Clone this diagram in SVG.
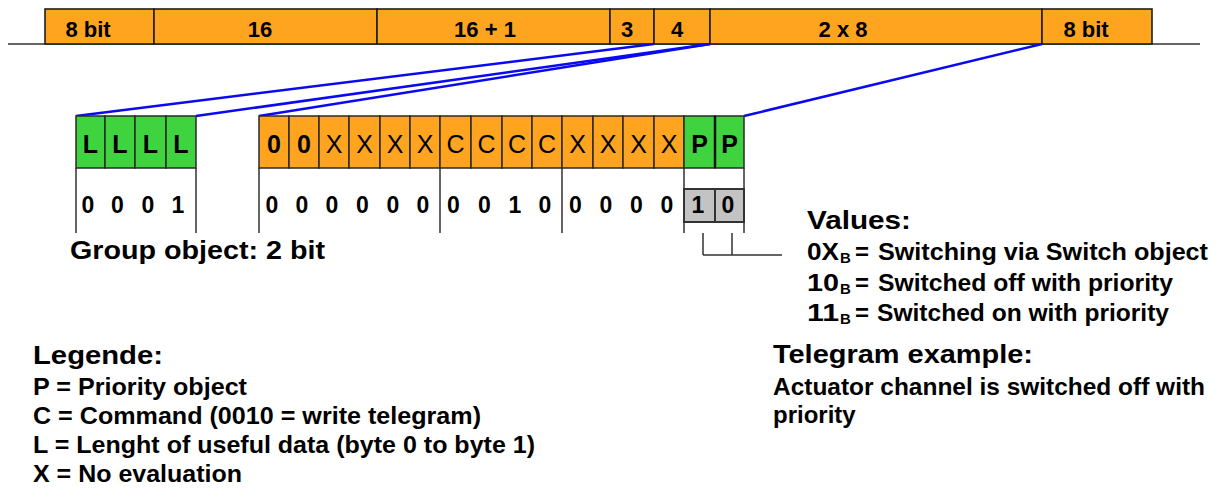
<svg xmlns="http://www.w3.org/2000/svg" width="1221" height="490" viewBox="0 0 1221 490">
<style>
text{font-family:"Liberation Sans",Arial,sans-serif;fill:#000}
.b{font-weight:bold}
.bar{fill:#FFA41F;stroke:#1e1e1e;stroke-width:1.6}
.or{fill:#FFA41F;stroke:#2a2a2a;stroke-width:1.5}
.gr{fill:#3FD43F;stroke:#2a2a2a;stroke-width:1.5}
.gy{fill:#C3C3C3;stroke:#333;stroke-width:2}
.hd{font-size:22px;font-weight:bold;text-anchor:middle}
.cell{font-size:25px;text-anchor:middle}
.dig{font-size:23px;font-weight:bold;text-anchor:middle}
.sep{stroke:#333;stroke-width:1.5;fill:none}
.blue{stroke:#0A0AF0;stroke-width:2.5;fill:none}
.t24{font-size:24px;font-weight:bold}
.t26{font-size:26px;font-weight:bold}
.sub{font-size:15px;font-weight:bold}
</style>
<rect width="1221" height="490" fill="#fff"/>
<line class="sep" x1="8" y1="44" x2="1200" y2="44"/>
<g id="frame">
<g id="f-8bit-a"><rect class="bar" x="45" y="9" width="109" height="35"/><text class="hd" x="88" y="37">8 bit</text></g>
<g id="f-16"><rect class="bar" x="154" y="9" width="223" height="35"/><text class="hd" x="260" y="37">16</text></g>
<g id="f-16p1"><rect class="bar" x="377" y="9" width="233" height="35"/><text class="hd" x="485" y="37">16 + 1</text></g>
<g id="f-3"><rect class="bar" x="610" y="9" width="44" height="35"/><text class="hd" x="627" y="37">3</text></g>
<g id="f-4"><rect class="bar" x="654" y="9" width="56" height="35"/><text class="hd" x="677" y="37">4</text></g>
<g id="f-2x8"><rect class="bar" x="710" y="9" width="332" height="35"/><text class="hd" x="843" y="37">2 x 8</text></g>
<g id="f-8bit-b"><rect class="bar" x="1042" y="9" width="110" height="35"/><text class="hd" x="1086" y="37">8 bit</text></g>
</g>
<g id="connectors">
<line class="blue" x1="654" y1="44" x2="76" y2="116"/>
<line class="blue" x1="710" y1="44" x2="196" y2="116"/>
<line class="blue" x1="710" y1="44" x2="259" y2="116"/>
<line class="blue" x1="1042" y1="44" x2="744" y2="116"/>
<path class="sep" d="M703,233 V255 M732,233 V255 M703,255 H782"/>
</g>
<g id="length-bits">
<rect class="gr" x="76" y="116" width="29" height="52"/>
<rect class="gr" x="105" y="116" width="30" height="52"/>
<rect class="gr" x="135" y="116" width="31" height="52"/>
<rect class="gr" x="166" y="116" width="30" height="52"/>
<g class="cell b"><text x="90.5" y="153">L</text><text x="120" y="153">L</text><text x="150.5" y="153">L</text><text x="181" y="153">L</text></g>
<path class="sep" d="M76,168 V233 M196,168 V233"/>
<g class="dig"><text x="88" y="213">0</text><text x="117.5" y="213">0</text><text x="148" y="213">0</text><text x="178" y="213">1</text></g>
</g>
<g id="data-bits">
<rect class="or" x="259" y="116" width="30" height="52"/>
<rect class="or" x="289" y="116" width="30" height="52"/>
<rect class="or" x="319" y="116" width="30" height="52"/>
<rect class="or" x="349" y="116" width="31" height="52"/>
<rect class="or" x="380" y="116" width="30" height="52"/>
<rect class="or" x="410" y="116" width="30" height="52"/>
<rect class="or" x="440" y="116" width="31" height="52"/>
<rect class="or" x="471" y="116" width="31" height="52"/>
<rect class="or" x="502" y="116" width="30" height="52"/>
<rect class="or" x="532" y="116" width="30" height="52"/>
<rect class="or" x="562" y="116" width="31" height="52"/>
<rect class="or" x="593" y="116" width="30" height="52"/>
<rect class="or" x="623" y="116" width="31" height="52"/>
<rect class="or" x="654" y="116" width="30" height="52"/>
<g class="cell">
<text class="b" x="274" y="153">0</text><text class="b" x="304" y="153">0</text>
<text x="334" y="153">X</text><text x="364.5" y="153">X</text><text x="395" y="153">X</text><text x="425" y="153">X</text>
<text x="455.5" y="153">C</text><text x="486.5" y="153">C</text><text x="517" y="153">C</text><text x="547" y="153">C</text>
<text x="577.5" y="153">X</text><text x="608" y="153">X</text><text x="638.5" y="153">X</text><text x="669" y="153">X</text>
</g>
<path class="sep" d="M259,168 V233 M440,168 V233 M562,168 V233 M684,168 V233 M744,168 V233"/>
<g class="dig">
<text x="272" y="213">0</text><text x="302" y="213">0</text><text x="332" y="213">0</text><text x="362.5" y="213">0</text><text x="393" y="213">0</text><text x="423" y="213">0</text>
<text x="453.5" y="213">0</text><text x="484.5" y="213">0</text><text x="515" y="213">1</text><text x="545" y="213">0</text>
<text x="575.5" y="213">0</text><text x="606" y="213">0</text><text x="636.5" y="213">0</text><text x="667" y="213">0</text>
</g>
</g>
<g id="priority-bits">
<rect class="gr" x="684" y="116" width="31" height="52"/>
<rect class="gr" x="715" y="116" width="29" height="52"/>
<line x1="715" y1="116" x2="715" y2="168" stroke="#111" stroke-width="2.5"/>
<g class="cell b"><text x="699.5" y="153">P</text><text x="729.5" y="153">P</text></g>
<rect class="gy" x="684" y="189" width="31" height="33"/>
<rect class="gy" x="715" y="189" width="29" height="33"/>
<g class="dig"><text x="698" y="213">1</text><text x="728" y="213">0</text></g>
</g>
<g id="group-object-label"><text class="t24" x="70" y="259" textLength="255" lengthAdjust="spacingAndGlyphs" style="font-size:25px">Group object: 2 bit</text></g>
<g id="values">
<text class="t26" x="807" y="229" textLength="104" lengthAdjust="spacingAndGlyphs">Values:</text>
<text class="t24" x="807" y="260" textLength="32" lengthAdjust="spacingAndGlyphs">0X</text><text class="sub" x="840" y="263">B</text><text class="t24" x="855" y="260">=</text>
<text class="t24" x="878" y="260" textLength="330" lengthAdjust="spacingAndGlyphs">Switching via Switch object</text>
<text class="t24" x="807" y="291" textLength="32" lengthAdjust="spacingAndGlyphs">10</text><text class="sub" x="840" y="294">B</text><text class="t24" x="855" y="291">=</text>
<text class="t24" x="878" y="291" textLength="295" lengthAdjust="spacingAndGlyphs">Switched off with priority</text>
<text class="t24" x="807" y="321" textLength="32" lengthAdjust="spacingAndGlyphs">11</text><text class="sub" x="840" y="324">B</text><text class="t24" x="855" y="321">=</text>
<text class="t24" x="877" y="321" textLength="292" lengthAdjust="spacingAndGlyphs">Switched on with priority</text>
</g>
<g id="legend">
<text class="t26" x="33" y="364" textLength="130" lengthAdjust="spacingAndGlyphs">Legende:</text>
<text class="t24" x="33" y="395" textLength="214" lengthAdjust="spacingAndGlyphs">P = Priority object</text>
<text class="t24" x="33" y="424" textLength="448" lengthAdjust="spacingAndGlyphs">C = Command (0010 = write telegram)</text>
<text class="t24" x="33" y="453" textLength="502" lengthAdjust="spacingAndGlyphs">L = Lenght of useful data (byte 0 to byte 1)</text>
<text class="t24" x="33" y="482" textLength="209" lengthAdjust="spacingAndGlyphs">X = No evaluation</text>
</g>
<g id="telegram-example">
<text class="t26" x="773" y="363" textLength="260" lengthAdjust="spacingAndGlyphs">Telegram example:</text>
<text class="t24" x="773" y="395" textLength="432" lengthAdjust="spacingAndGlyphs">Actuator channel is switched off with</text>
<text class="t24" x="773" y="423">priority</text>
</g>
</svg>
